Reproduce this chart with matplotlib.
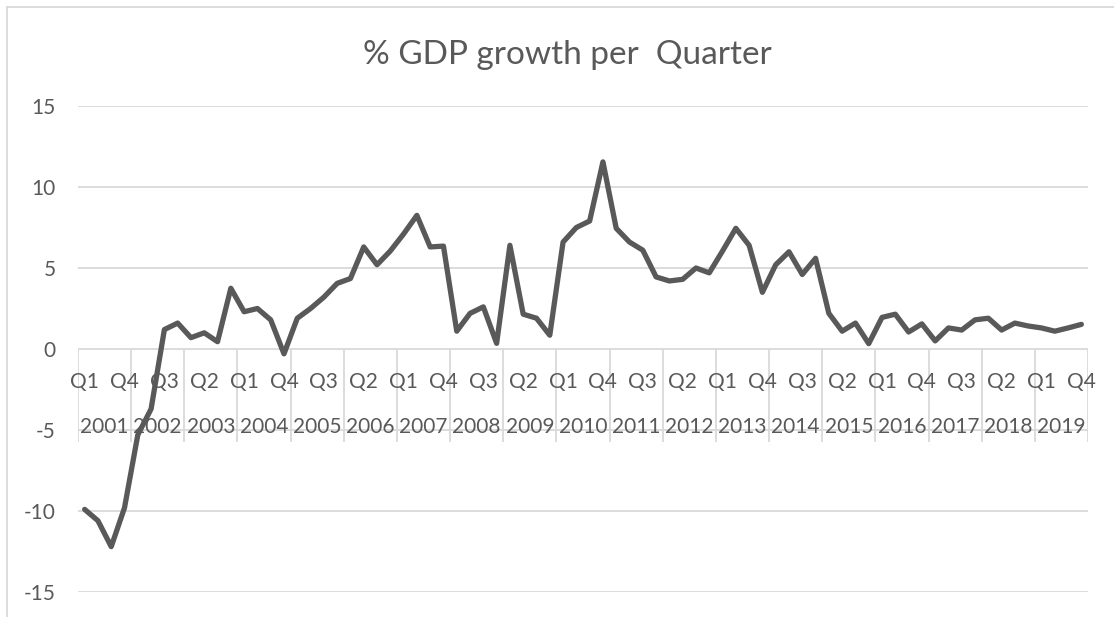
import numpy as np
import matplotlib.pyplot as plt
from matplotlib.lines import Line2D

# quarterly GDP growth, Q1 2001 .. Q4 2019
years = list(range(2001, 2020))
quarters = ['Q1', 'Q2', 'Q3', 'Q4']
growth = [
    -9.9, -10.6, -12.2, -9.8,     # 2001
    -5.3, -3.7, 1.2, 1.6,         # 2002
    0.7, 1.0, 0.45, 3.75,         # 2003
    2.3, 2.5, 1.8, -0.3,          # 2004
    1.9, 2.5, 3.2, 4.05,          # 2005
    4.35, 6.3, 5.2, 6.05,         # 2006
    7.1, 8.25, 6.3, 6.35,         # 2007
    1.1, 2.2, 2.6, 0.35,          # 2008
    6.4, 2.15, 1.9, 0.85,         # 2009
    6.6, 7.5, 7.9, 11.55,         # 2010
    7.45, 6.6, 6.1, 4.45,         # 2011
    4.2, 4.3, 5.0, 4.7,           # 2012
    6.05, 7.45, 6.4, 3.5,         # 2013
    5.2, 6.0, 4.6, 5.6,           # 2014
    2.2, 1.1, 1.6, 0.33,          # 2015
    1.95, 2.15, 1.05, 1.55,       # 2016
    0.5, 1.3, 1.17, 1.8,          # 2017
    1.9, 1.17, 1.6, 1.42,         # 2018
    1.3, 1.1, 1.3, 1.52,          # 2019
]
yticks = [-15, -10, -5, 0, 5, 10, 15]

grey = '#595959'
grid = '#d9d9d9'
plt.rcParams['font.family'] = ['Lato', 'DejaVu Sans']
plt.rcParams['axes.unicode_minus'] = False

fig = plt.figure(figsize=(11.14, 6.17), dpi=100)
ax = fig.add_axes([78 / 1114, 1 - 592 / 617, 1010 / 1114, 486 / 617])

n = len(growth)
x = np.arange(n)
ax.set_xlim(-0.5, n - 0.5)
ax.set_ylim(-15, 15)

for v in yticks:
    ax.axhline(v, color=grid, lw=1.3, zorder=1)
ax.set_yticks(yticks)
ax.tick_params(axis='y', length=0, pad=16, labelsize=15, labelcolor=grey)
ax.set_xticks([])
for s in ax.spines.values():
    s.set_visible(False)

# year separators under the category axis
bounds = np.arange(len(years) + 1) * 4 - 0.5
ax.vlines(bounds, 0, -5.75, color=grid, lw=1.3, zorder=1)

# quarter labels, every third quarter
for i in range(0, n, 3):
    ax.annotate(quarters[i % 4], xy=(i, 0), xytext=(0, -23.5), textcoords='offset points',
                ha='center', va='center', fontsize=15, color=grey)
# year labels centred on each group of four
for k, yr in enumerate(years):
    ax.annotate(str(yr), xy=(k * 4 + 1.5, 0), xytext=(0, -56.5), textcoords='offset points',
                ha='center', va='center', fontsize=15, color=grey)

ax.plot(x, growth, color=grey, lw=3.8, solid_joinstyle='round', solid_capstyle='round', zorder=3)

fig.text(0.509, 1 - 55 / 617, '% GDP growth per  Quarter', ha='center', va='center',
         fontsize=24, color=grey)

# chart frame
fig.add_artist(Line2D([7 / 1114, 7 / 1114], [0, 1 - 7 / 617], color=grid, lw=1.3))
fig.add_artist(Line2D([7 / 1114, 1], [1 - 7 / 617, 1 - 7 / 617], color=grid, lw=1.3))

fig.savefig('out.png', dpi=100, facecolor='white')
